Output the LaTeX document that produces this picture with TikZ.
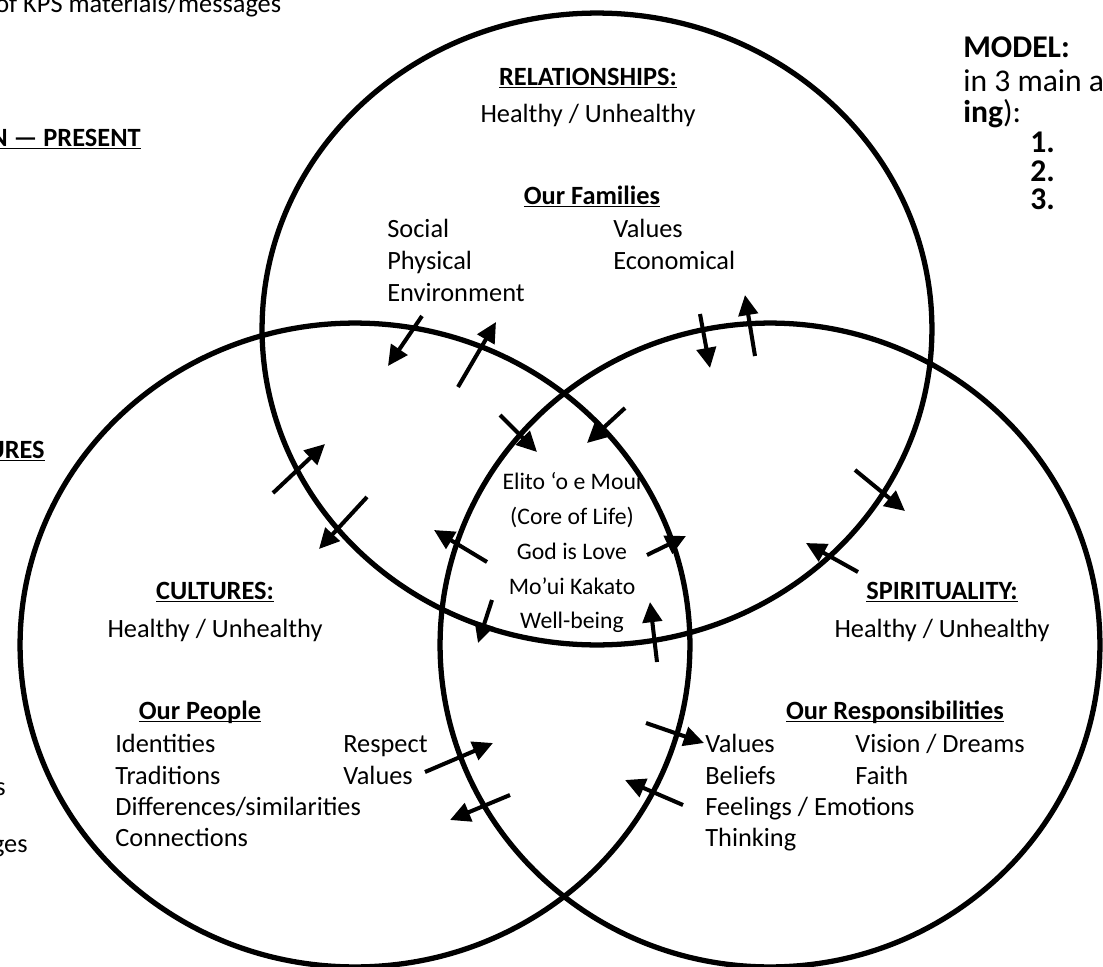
\documentclass[tikz,border=0pt]{standalone}
\usepackage{fontspec}
\setmainfont{Carlito}
\usetikzlibrary{arrows.meta}
\newcommand\ulb[1]{\underline{\smash{\textbf{#1}}}}
\begin{document}
\begin{tikzpicture}[x=0.02cm,y=-0.02cm,
  circ/.style={line width=3pt},
  arr/.style={line width=2.3pt,-{Triangle[length=11.5pt,width=11pt]}},
  txt/.style={font=\fontsize{15}{18}\selectfont, inner sep=0pt},
  ctr/.style={font=\fontsize{13.5}{16}\selectfont, inner sep=0pt},
  big/.style={font=\fontsize{18}{21}\selectfont, inner sep=0pt}]
\useasboundingbox (0,0) rectangle (1103,967);
\clip (0,0) rectangle (1103,967);

% circles
\draw[circ] (597,329) ellipse [x radius=6.7cm, y radius=6.32cm];
\draw[circ] (355,645) ellipse [x radius=6.7cm, y radius=6.44cm];
\draw[circ] (770,645) ellipse [x radius=6.6cm, y radius=6.44cm];

% clipped side texts
\node[txt,anchor=base west] (kps) at (-5,12) {of KPS materials/messages};
\node[txt,anchor=base east] (present) at (141,146) {\ulb{N — PRESENT}};
\node[txt,anchor=base east] (ures) at (45,458) {\ulb{URES}};
\node[txt,anchor=base east] (s) at (6,795) {s};
\node[txt,anchor=base east] (ges) at (28,852) {ges};

\node[big,anchor=base west] (model) at (963,57) {\textbf{MODEL:}};
\node[big,anchor=base west] (in3) at (963,91) {in 3 main a};
\node[big,anchor=base west] (ing) at (963,122) {\textbf{ing}):};
\node[big,anchor=base west] (n1) at (1030,152) {\textbf{1.}};
\node[big,anchor=base west] (n2) at (1030,181) {\textbf{2.}};
\node[big,anchor=base west] (n3) at (1030,209) {\textbf{3.}};

% relationships
\node[txt,anchor=base] (rel) at (588,85) {\ulb{RELATIONSHIPS:}};
\node[txt,anchor=base] (relh) at (588,122) {Healthy / Unhealthy};
\node[txt,anchor=base] (fam) at (592,204) {\ulb{Our Families}};
\node[txt,anchor=base west] (social) at (387,237) {Social};
\node[txt,anchor=base west] (phys) at (387,269) {Physical};
\node[txt,anchor=base west] (env) at (387,301) {Environment};
\node[txt,anchor=base west] (fval) at (613,237) {Values};
\node[txt,anchor=base west] (econ) at (613,269) {Economical};

% core
\node[ctr,anchor=base] (c1) at (572,489) {Elito ‘o e Moui};
\node[ctr,anchor=base] (c2) at (572,524) {(Core of Life)};
\node[ctr,anchor=base] (c3) at (572,559) {God is Love};
\node[ctr,anchor=base] (c4) at (572,594) {Mo’ui Kakato};
\node[ctr,anchor=base] (c5) at (572,628) {Well-being};

% cultures
\node[txt,anchor=base] (cul) at (215,599) {\ulb{CULTURES:}};
\node[txt,anchor=base] (culh) at (215,637) {Healthy / Unhealthy};
\node[txt,anchor=base] (peo) at (200,719) {\ulb{Our People}};
\node[txt,anchor=base west] (iden) at (115,752) {Identities};
\node[txt,anchor=base west] (trad) at (115,784) {Traditions};
\node[txt,anchor=base west] (diff) at (115,815) {Differences/similarities};
\node[txt,anchor=base west] (conn) at (115,846) {Connections};
\node[txt,anchor=base west] (resp) at (343,752) {Respect};
\node[txt,anchor=base west] (pval) at (343,784) {Values};

% spirituality
\node[txt,anchor=base] (spi) at (942,599) {\ulb{SPIRITUALITY:}};
\node[txt,anchor=base] (spih) at (942,637) {Healthy / Unhealthy};
\node[txt,anchor=base] (rsp) at (895,719) {\ulb{Our Responsibilities}};
\node[txt,anchor=base west] (sval) at (705,752) {Values};
\node[txt,anchor=base west] (beli) at (705,784) {Beliefs};
\node[txt,anchor=base west] (feel) at (705,815) {Feelings / Emotions};
\node[txt,anchor=base west] (thin) at (705,846) {Thinking};
\node[txt,anchor=base west] (visi) at (855,752) {Vision / Dreams};
\node[txt,anchor=base west] (fait) at (855,784) {Faith};

% arrows
\draw[arr] (422,316) -- (388,366);
\draw[arr] (458,387) -- (496,322);
\draw[arr] (700,314) -- (710,368);
\draw[arr] (755,356) -- (745,295);
\draw[arr] (500,415) -- (537,452);
\draw[arr] (625,408) -- (587,443);
\draw[arr] (273,493) -- (325,444);
\draw[arr] (367,497) -- (319,549);
\draw[arr] (487,562) -- (434,530);
\draw[arr] (647,555) -- (686,536);
\draw[arr] (492,600) -- (478,643);
\draw[arr] (657,662) -- (650,602);
\draw[arr] (855,470) -- (905,511);
\draw[arr] (858,572) -- (806,543);
\draw[arr] (425,772) -- (493,743);
\draw[arr] (510,795) -- (450,820);
\draw[arr] (646,723) -- (704,743);
\draw[arr] (683,805) -- (625,780);
\end{tikzpicture}
\end{document}
